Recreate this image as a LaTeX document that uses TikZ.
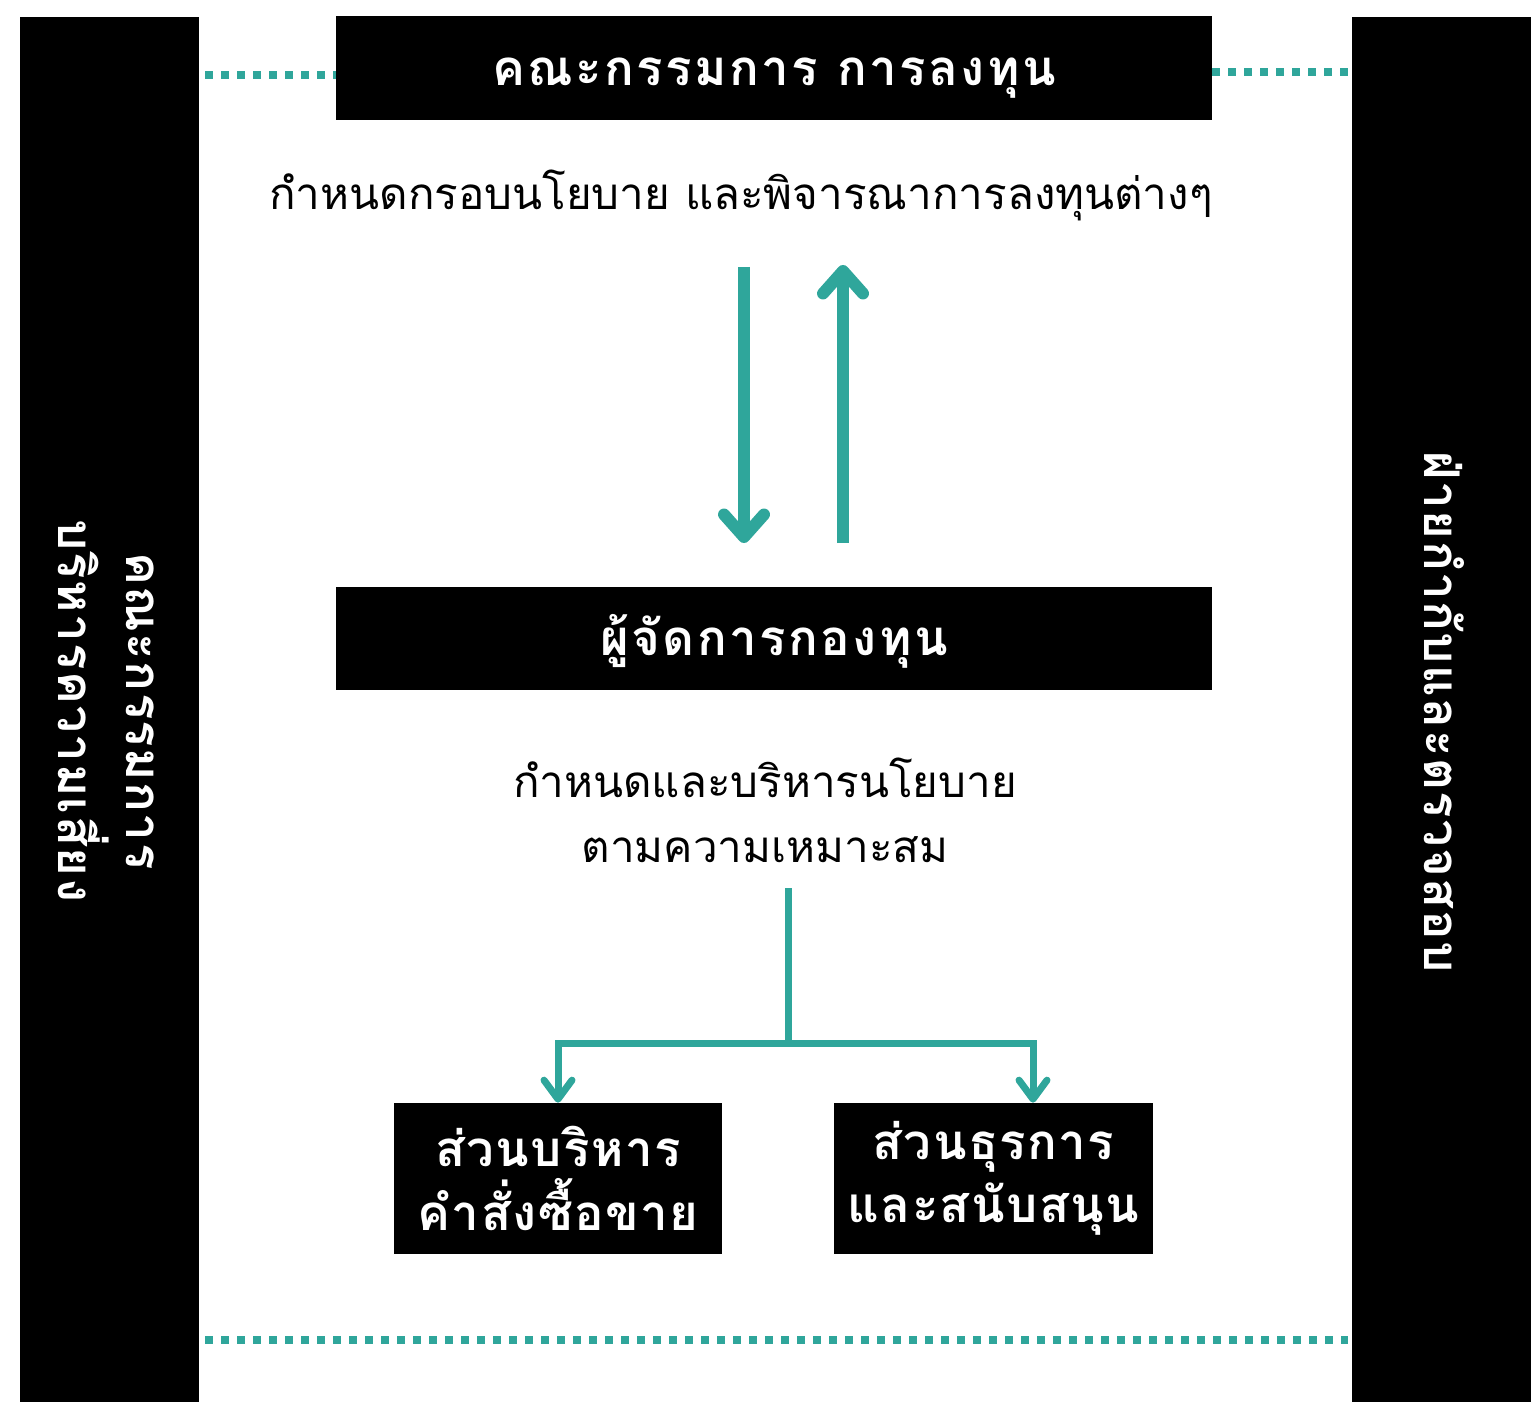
\documentclass[tikz,border=0pt]{standalone}
\usepackage{fontspec}
\setmainfont[Script=Thai]{Loma}
\usepackage{tikz}
\usetikzlibrary{calc,positioning,arrows.meta}
\usepackage{xcolor}
\definecolor{tealc}{RGB}{47,166,155}
\tikzset{
  blk/.style={rectangle,fill=black,text=white,inner sep=0pt,align=center},
  ttl/.style={blk,minimum width=17.52cm,minimum height=2.08cm,text height=0.8cm,text depth=0.1cm,font=\fontsize{28}{30}\selectfont\bfseries\addfontfeature{LetterSpace=5}},
  sub/.style={blk,minimum height=3.02cm,font=\fontsize{28}{36}\selectfont\bfseries\addfontfeature{LetterSpace=3}},
  side/.style={blk,minimum width=3.58cm,minimum height=27.7cm},
  sidetxt/.style={rotate=-90,text=white,align=center,font=\fontsize{28}{39}\selectfont\bfseries\addfontfeature{LetterSpace=3}},
  desc/.style={align=center,font=\fontsize{25}{37}\selectfont},
  dots/.style={tealc,line width=0.16cm,dash pattern=on 0.16cm off 0.16cm},
  flow/.style={tealc,line width=0.24cm,-{Straight Barb[length=0.45cm,width=0.8cm,line cap=round,round]}},
  tree/.style={tealc,line width=0.14cm},
  treearr/.style={tree,-{Straight Barb[length=0.38cm,width=0.56cm,line cap=round,round]}},
}
\begin{document}
\begin{tikzpicture}[x=0.02cm,y=-0.02cm]
  \useasboundingbox (0,0) rectangle (1539,1402);
  % side bars
  \node[side](risk) at (109.5,709.5){};
  \node[sidetxt](risktxt) at (106,711){คณะกรรมการ\\บริหารความเสี่ยง};
  \node[side](audit) at (1441.5,709.5){};
  \node[sidetxt](audittxt) at (1444,712){ฝ่ายกำกับและตรวจสอบ};
  % boxes
  \node[ttl](board) at (774,68){คณะกรรมการ การลงทุน};
  \node[desc](boardtxt) at (741,195){กำหนดกรอบนโยบาย และพิจารณาการลงทุนต่างๆ};
  \node[ttl](mgr) at (774,638.5){ผู้จัดการกองทุน};
  \node[desc](mgrtxt) at (765,810){กำหนดและบริหารนโยบาย\\ตามความเหมาะสม};
  \node[sub,minimum width=6.56cm](order) at (558,1178.5){ส่วนบริหาร\\คำสั่งซื้อขาย};
  \node[sub,minimum width=6.38cm](ops) at (993.5,1178.5){ส่วนธุรการ\\และสนับสนุน};
  % dotted links
  \draw[dots,shorten <=0.12cm] (risk.east |- 0,75) -- (board.west |- 0,75);
  \draw[dots,shorten >=0.08cm] (board.east |- 0,72) -- (audit.west |- 0,72);
  \draw[dots,shorten <=0.12cm,shorten >=0.08cm] (risk.east |- 0,1340) -- (audit.west |- 0,1340);
  % arrows
  \coordinate (d1) at (744,267); \coordinate (d2) at (744,543);
  \coordinate (u1) at (843,543); \coordinate (u2) at (843,265);
  \draw[flow] (d1) -- (d2);
  \draw[flow] (u1) -- (u2);
  \coordinate (t0) at (788,888); \coordinate (t1) at (788,1043);
  \draw[tree] (t0) -- (t1);
  \draw[treearr] (t1) -| (order.north);
  \draw[treearr] (t1) -| (ops.north -| 1033,0);
\end{tikzpicture}
\end{document}
